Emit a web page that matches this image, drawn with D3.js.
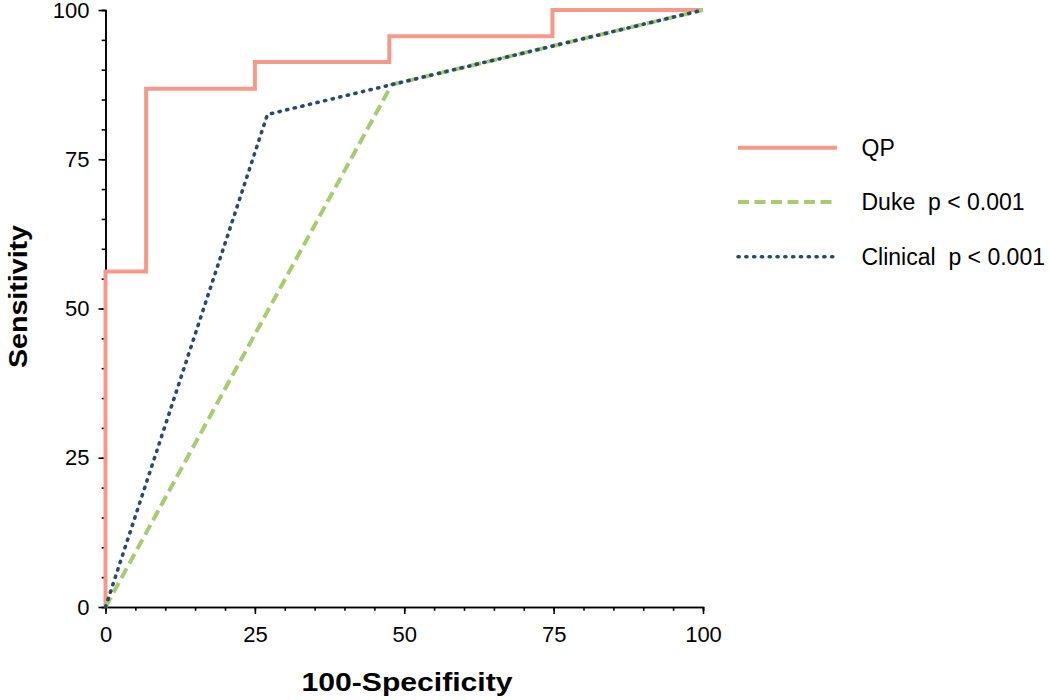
<!DOCTYPE html>
<html>
<head>
<meta charset="utf-8">
<script src="https://cdn.jsdelivr.net/npm/d3@7"></script>
<style>
  html, body { margin: 0; padding: 0; background: #fff; }
  svg { display: block; font-family: "Liberation Sans", Arial, Helvetica, sans-serif; }
</style>
</head>
<body>
<svg id="chart" width="1050" height="700"></svg>
<script>
// ---- Data ----
const qpX = [0, 0, 6.8, 6.8, 25, 25, 47.5, 47.5, 74.8, 74.8, 100];
const qpY = [0, 56.2, 56.2, 86.8, 86.8, 91.3, 91.3, 95.6, 95.6, 100, 100];
const dukeX = [0, 47.9, 100];
const dukeY = [0, 87.5, 100];
const clinicalX = [0, 27.1, 47.9, 100];
const clinicalY = [0, 82.5, 87.5, 100];
const seriesNames = ["QP", "Duke  p < 0.001", "Clinical  p < 0.001"];
const majorTicks = [0, 25, 50, 75, 100];
const minorTicks = d3.range(0, 101, 5);
const xTitle = "100-Specificity";
const yTitle = "Sensitivity";

// ---- Layout ----
const svg = d3.select("#chart");
const x = d3.scaleLinear().domain([0, 100]).range([105.5, 703]);
const y = d3.scaleLinear().domain([0, 100]).range([607, 10]);

const series = [
  { name: seriesNames[0], xs: qpX, ys: qpY, color: "#f59a8a", width: 4, dash: null, cap: "butt" },
  { name: seriesNames[1], xs: dukeX, ys: dukeY, color: "#a7ca73", width: 4, dash: "11,5.5", cap: "butt" },
  { name: seriesNames[2], xs: clinicalX, ys: clinicalY, color: "#2b4a6b", width: 3.6, dash: "1.2,6.6", cap: "round" }
];

// Axes
const axisColor = "#000";
function styleAxis(g) {
  g.selectAll("path.domain").attr("stroke", axisColor).attr("stroke-width", 1.6);
  g.selectAll(".tick line").attr("stroke", axisColor).attr("stroke-width", 1.6);
  g.selectAll("text").attr("font-size", 22).attr("fill", "#000")
    .attr("font-family", "Liberation Sans, Arial, sans-serif");
}

// minor ticks
svg.append("g").attr("transform", `translate(0,${y(0)})`)
  .call(d3.axisBottom(x).tickValues(minorTicks).tickSize(3.8).tickFormat(""))
  .call(styleAxis);
svg.append("g").attr("transform", `translate(${x(0)},0)`)
  .call(d3.axisLeft(y).tickValues(minorTicks).tickSize(3.8).tickFormat(""))
  .call(styleAxis);
// major ticks
svg.append("g").attr("transform", `translate(0,${y(0)})`)
  .call(d3.axisBottom(x).tickValues(majorTicks).tickSize(7).tickPadding(12).tickSizeOuter(0))
  .call(styleAxis);
svg.append("g").attr("transform", `translate(${x(0)},0)`)
  .call(d3.axisLeft(y).tickValues(majorTicks).tickSize(7).tickPadding(9).tickSizeOuter(0))
  .call(styleAxis);

// Lines
const line = d3.line().x(d => x(d[0])).y(d => y(d[1]));
// draw in order: Duke, Clinical, QP on top? QP drawn first, then Duke, then Clinical
const drawOrder = [series[0], series[1], series[2]];
drawOrder.forEach(s => {
  const pts = s.xs.map((v, i) => [v, s.ys[i]]);
  svg.append("path")
    .datum(pts)
    .attr("d", line)
    .attr("fill", "none")
    .attr("stroke", s.color)
    .attr("stroke-width", s.width)
    .attr("stroke-dasharray", s.dash)
    .attr("stroke-linecap", s.cap)
    .attr("stroke-linejoin", "miter");
});

// Axis titles
svg.append("text")
  .attr("x", 407).attr("y", 690.5)
  .attr("text-anchor", "middle")
  .attr("font-size", 25.5).attr("font-weight", "bold")
  .attr("textLength", 211).attr("lengthAdjust", "spacingAndGlyphs")
  .text(xTitle);
svg.append("text")
  .attr("transform", `translate(27,${296.5}) rotate(-90)`)
  .attr("text-anchor", "middle")
  .attr("font-size", 25.5).attr("font-weight", "bold")
  .attr("textLength", 143).attr("lengthAdjust", "spacingAndGlyphs")
  .text(yTitle);

// Legend
const legendY = [147.7, 202, 256.7];
const lg = svg.append("g");
series.forEach((s, i) => {
  lg.append("line")
    .attr("x1", 738).attr("x2", 837)
    .attr("y1", legendY[i]).attr("y2", legendY[i])
    .attr("stroke", s.color)
    .attr("stroke-width", s.width)
    .attr("stroke-dasharray", s.dash)
    .attr("stroke-linecap", s.cap);
  lg.append("text")
    .attr("x", 861.5).attr("y", legendY[i])
    .attr("dy", "0.36em")
    .attr("font-size", 23)
    .attr("fill", "#000")
    .style("white-space", "pre")
    .attr("xml:space", "preserve")
    .text(s.name);
});
</script>
</body>
</html>
